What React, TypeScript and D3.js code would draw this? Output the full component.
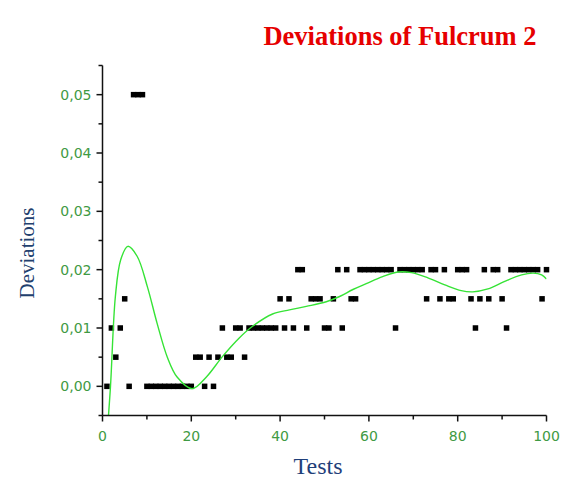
import * as d3 from 'd3';

// deviation per test, tests 1..100
const DEVIATIONS = [
  0, 0.01, 0.005, 0.01, 0.015, 0, 0.05, 0.05, 0.05, 0,
  0, 0, 0, 0, 0, 0, 0, 0, 0, 0,
  0.005, 0.005, 0, 0.005, 0, 0.005, 0.01, 0.005, 0.005, 0.01,
  0.01, 0.005, 0.01, 0.01, 0.01, 0.01, 0.01, 0.01, 0.01, 0.015,
  0.01, 0.015, 0.01, 0.02, 0.02, 0.01, 0.015, 0.015, 0.015, 0.01,
  0.01, 0.015, 0.02, 0.01, 0.02, 0.015, 0.015, 0.02, 0.02, 0.02,
  0.02, 0.02, 0.02, 0.02, 0.02, 0.01, 0.02, 0.02, 0.02, 0.02,
  0.02, 0.02, 0.015, 0.02, 0.02, 0.015, 0.02, 0.015, 0.015, 0.02,
  0.02, 0.02, 0.015, 0.01, 0.015, 0.02, 0.015, 0.02, 0.02, 0.015,
  0.01, 0.02, 0.02, 0.02, 0.02, 0.02, 0.02, 0.02, 0.015, 0.02,
];

// smoothed fit (green line)
const FIT_X = [1.0, 1.8, 2.9, 4.1, 5.7, 7.8, 10.1, 12.3, 14.6, 16.8, 20.2, 23.5, 27, 30.8, 33.8, 38.3, 42.1, 45.9, 50.4, 53.4, 56.4, 59.4, 63.1, 66.5, 69.6, 73.3, 77.1, 80.8, 83.4, 86.8, 90.6, 94.4, 97, 98.9, 100];
const FIT_Y = [-0.0085, 0.0, 0.0154, 0.0217, 0.024, 0.0223, 0.0171, 0.0108, 0.005, 0.0016, -0.0004, 0.0017, 0.0051, 0.0083, 0.0103, 0.0124, 0.0131, 0.0137, 0.0145, 0.0154, 0.0166, 0.0176, 0.0188, 0.0196, 0.0195, 0.0186, 0.0174, 0.0164, 0.0162, 0.0167, 0.018, 0.0191, 0.0194, 0.0191, 0.0184];

const X_MAJOR = [0, 20, 40, 60, 80, 100];
const X_MINOR = [10, 30, 50, 70, 90];
const Y_MAJOR = [0, 0.01, 0.02, 0.03, 0.04, 0.05];
const Y_MINOR = [-0.005, 0.005, 0.015, 0.025, 0.035, 0.045, 0.055];

const W = 573, H = 494;
const x = d3.scaleLinear().domain([0, 100]).range([102.5, 546.5]);
const y = d3.scaleLinear().domain([-0.005, 0.055]).range([415.5, 65.5]);

const tickColor = '#3f9a44';
const fmt = (v: number) => v.toFixed(2).replace('.', ',');
const M = 5.5; // marker size

export default function App() {
  const [x0, x1] = x.range();
  const [yb, yt] = y.range();
  const fitLine = d3.line<number>()
    .x((d) => x(d))
    .y((_, i) => y(FIT_Y[i]))
    .curve(d3.curveCatmullRom.alpha(0.5));

  return (
    <svg width={W} height={H} style={{ position: 'absolute', left: 0, top: 0, background: '#fff' }}>
      <defs>
        <clipPath id="plot">
          <rect x={x0} y={yt} width={x1 - x0} height={yb - yt} />
        </clipPath>
      </defs>

      <text x={400} y={45} textAnchor="middle" fontFamily="'Liberation Serif', 'Times New Roman', serif"
        fontWeight="bold" fontSize={26.5} fill="#e60000">Deviations of Fulcrum 2</text>

      {/* points */}
      {DEVIATIONS.map((d, i) => (
        <rect key={i} x={x(i + 1) - M / 2} y={y(d) - M / 2} width={M} height={M} fill="#000" />
      ))}

      <path d={fitLine(FIT_X) || ''} fill="none" stroke="#36e336" strokeWidth={1.4} clipPath="url(#plot)" />

      {/* axes */}
      <line x1={x0} y1={yb} x2={x1} y2={yb} stroke="#111" strokeWidth={1.5} />
      <line x1={x0} y1={yb} x2={x0} y2={yt} stroke="#111" strokeWidth={1.5} />

      {X_MAJOR.map((v) => (
        <g key={'xm' + v}>
          <line x1={x(v)} x2={x(v)} y1={yb} y2={yb + 6} stroke="#111" strokeWidth={1.5} />
          <text x={x(v)} y={yb + 25} textAnchor="middle" fontFamily="'DejaVu Sans', sans-serif"
            fontSize={14} fill={tickColor}>{v}</text>
        </g>
      ))}
      {X_MINOR.map((v) => (
        <line key={'xn' + v} x1={x(v)} x2={x(v)} y1={yb} y2={yb + 4} stroke="#111" strokeWidth={1.5} />
      ))}

      {Y_MAJOR.map((v) => (
        <g key={'ym' + v}>
          <line x1={x0 - 6} x2={x0} y1={y(v)} y2={y(v)} stroke="#111" strokeWidth={1.5} />
          <text x={x0 - 11} y={y(v) + 5} textAnchor="end" fontFamily="'DejaVu Sans', sans-serif"
            fontSize={14} fill={tickColor}>{fmt(v)}</text>
        </g>
      ))}
      {Y_MINOR.map((v) => (
        <line key={'yn' + v} x1={x0 - 4} x2={x0} y1={y(v)} y2={y(v)} stroke="#111" strokeWidth={1.5} />
      ))}

      <text x={318} y={474} textAnchor="middle" fontFamily="'Liberation Serif', 'Times New Roman', serif"
        fontSize={24} fill="#1f3f7a">Tests</text>
      <text transform="translate(34,253) rotate(-90)" textAnchor="middle"
        fontFamily="'Liberation Serif', 'Times New Roman', serif" fontSize={21} fill="#22406e">Deviations</text>
    </svg>
  );
}
